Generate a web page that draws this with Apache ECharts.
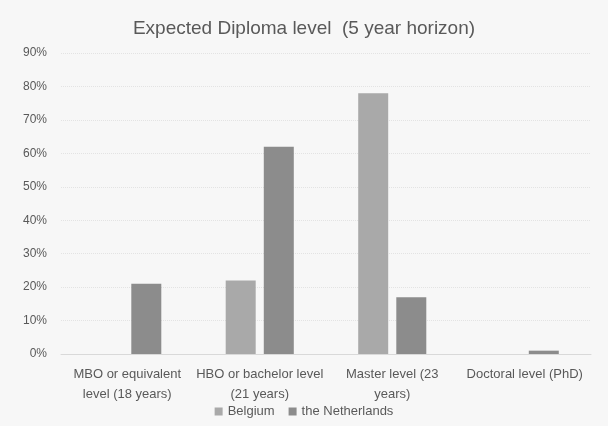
<!DOCTYPE html>
<html><head><meta charset="utf-8">
<script src="https://cdn.jsdelivr.net/npm/echarts@6/dist/echarts.min.js"></script>
<style>html,body{margin:0;padding:0;background:#f7f7f7}#c{width:608px;height:426px}</style>
</head><body><div id="c"></div>
<script>
var categories = ["MBO or equivalent\nlevel (18 years)", "HBO or bachelor level\n(21 years)", "Master level (23\nyears)", "Doctoral level (PhD)"];
var belgium = [0, 22, 78, 0];
var netherlands = [21, 62, 17, 1];
var yTicks = [0, 10, 20, 30, 40, 50, 60, 70, 80, 90];

var chart = echarts.init(document.getElementById('c'));
var font = 'Liberation Sans';
chart.setOption({
  backgroundColor: '#f7f7f7',
  animation: false,
  title: {
    text: 'Expected Diploma level  (5 year horizon)',
    left: 'center', top: 14,
    textStyle: {fontFamily: font, fontSize: 19, fontWeight: 'normal', color: '#595959'}
  },
  legend: {
    bottom: 3, left: 'center',
    itemWidth: 8, itemHeight: 8, itemGap: 14,
    icon: 'rect',
    textStyle: {fontFamily: font, fontSize: 13, color: '#595959'},
    data: ['Belgium', 'the Netherlands']
  },
  grid: {left: 61, right: 17, top: 53, bottom: 72},
  xAxis: {
    type: 'category', data: categories,
    axisLine: {lineStyle: {color: '#d9d9d9'}},
    axisTick: {show: false},
    axisLabel: {fontFamily: font, fontSize: 13, color: '#595959', lineHeight: 20, margin: 10, interval: 0}
  },
  yAxis: {
    type: 'value', min: yTicks[0], max: yTicks[yTicks.length - 1], interval: 10,
    axisLine: {show: false}, axisTick: {show: false},
    axisLabel: {fontFamily: font, fontSize: 12, color: '#595959', formatter: '{value}%', margin: 14},
    splitLine: {lineStyle: {color: '#e3e3e3', type: 'dotted'}}
  },
  series: [
    {name: 'Belgium', type: 'bar', data: belgium, barWidth: 30, barGap: '27%',
     itemStyle: {color: '#a9a9a9'}},
    {name: 'the Netherlands', type: 'bar', data: netherlands, barWidth: 30, barGap: '27%',
     itemStyle: {color: '#8c8c8c'}}
  ]
});
</script></body></html>
